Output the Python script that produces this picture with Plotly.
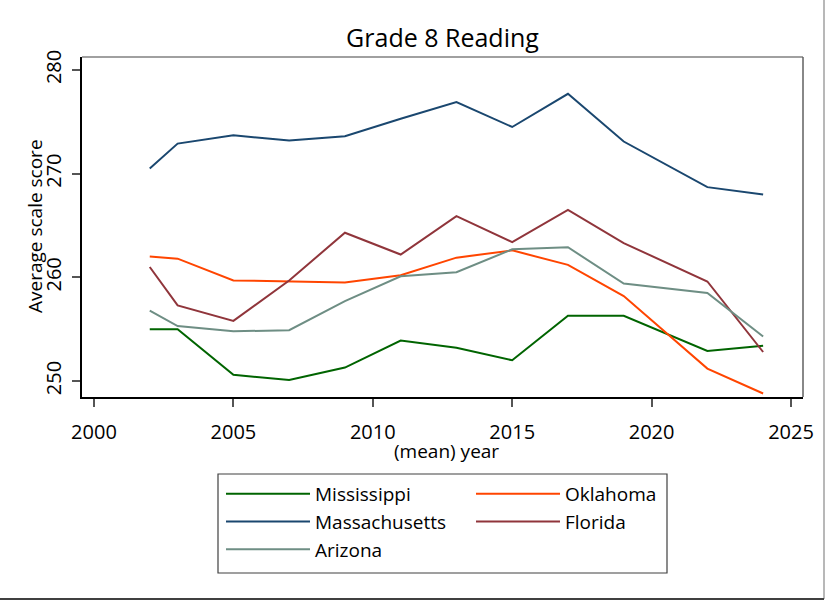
import plotly.graph_objects as go

years = [2002, 2003, 2005, 2007, 2009, 2011, 2013, 2015, 2017, 2019, 2022, 2024]
mississippi = [255.0, 255.0, 250.6, 250.1, 251.3, 253.9, 253.2, 252.0, 256.3, 256.3, 252.9, 253.4]
oklahoma = [262.0, 261.8, 259.7, 259.6, 259.5, 260.2, 261.9, 262.6, 261.2, 258.2, 251.2, 248.8]
massachusetts = [270.5, 272.9, 273.7, 273.2, 273.6, 275.3, 276.9, 274.5, 277.7, 273.1, 268.7, 268.0]
florida = [261.0, 257.3, 255.8, 259.7, 264.3, 262.2, 265.9, 263.4, 266.5, 263.3, 259.6, 252.8]
arizona = [256.8, 255.3, 254.8, 254.9, 257.7, 260.1, 260.5, 262.7, 262.9, 259.4, 258.5, 254.3]

x_ticks = [2000, 2005, 2010, 2015, 2020, 2025]
y_ticks = [250, 260, 270, 280]

series = [
    ("Mississippi", mississippi, "#006400"),
    ("Oklahoma", oklahoma, "#ff4500"),
    ("Massachusetts", massachusetts, "#1a476f"),
    ("Florida", florida, "#90353b"),
    ("Arizona", arizona, "#6e8e84"),
]

FONT = "Open Sans"

fig = go.Figure()
for name, vals, color in series:
    fig.add_trace(go.Scatter(x=years, y=vals, mode="lines", name=name,
                             line=dict(color=color, width=2)))

fig.update_layout(
    width=825, height=601,
    margin=dict(l=82, r=22, t=57, b=204, autoexpand=False),
    paper_bgcolor="white", plot_bgcolor="white",
    font=dict(family=FONT, color="black"),
    title=dict(text="Grade 8 Reading", x=0.5, xref="paper", xanchor="center",
               y=1 - 38 / 601, yref="container", yanchor="middle",
               font=dict(size=25, family=FONT, color="black")),
    showlegend=True,
    legend=dict(orientation="h", x=(221 - 82) / 721, xanchor="left",
                y=(397 - 475) / 340, yanchor="top",
                font=dict(size=19, family=FONT, color="black"),
                itemwidth=84, entrywidth=151, entrywidthmode="pixels",
                bgcolor="rgba(0,0,0,0)", borderwidth=0,
                traceorder="normal"),
    xaxis=dict(range=[1999.57, 2025.43], tickvals=x_ticks, showgrid=False,
               zeroline=False, showline=True, linecolor="black", linewidth=1.5,
               ticks="outside", ticklen=8, tickcolor="#555555", tickwidth=1.5,
               ticklabelstandoff=8,
               tickfont=dict(size=20, family=FONT, color="black")),
    yaxis=dict(range=[248.46, 281.25], tickvals=y_ticks, showgrid=False,
               zeroline=False, showline=True, linecolor="black", linewidth=1.5,
               ticks="outside", ticklen=8, tickcolor="#555555", tickwidth=1.5,
               tickangle=-90, ticklabelstandoff=3,
               tickfont=dict(size=20, family=FONT, color="black")),
    annotations=[
        dict(text="(mean) year", xref="paper", yref="paper",
             x=(446 - 82) / 721, y=(397 - 451) / 340, xanchor="center", yanchor="middle",
             showarrow=False, font=dict(size=19, family=FONT, color="black")),
        dict(text="Average scale score", xref="paper", yref="paper",
             x=(35 - 82) / 721, y=(397 - 226) / 340, xanchor="center", yanchor="middle",
             textangle=-90, showarrow=False,
             font=dict(size=19, family=FONT, color="black")),
    ],
    shapes=[
        dict(type="line", xref="paper", yref="paper", x0=0, x1=1, y0=1, y1=1,
             line=dict(color="#808080", width=1.5)),
        dict(type="line", xref="paper", yref="paper", x0=1, x1=1, y0=0, y1=1,
             line=dict(color="#606060", width=1.5)),
        dict(type="rect", xref="paper", yref="paper",
             x0=(218 - 82) / 721, x1=(667 - 82) / 721,
             y0=(397 - 474) / 340, y1=(397 - 573) / 340,
             line=dict(color="#404040", width=1.2), fillcolor="rgba(0,0,0,0)"),
        dict(type="line", xref="paper", yref="paper",
             x0=(824 - 82) / 721, x1=(824 - 82) / 721, y0=(397 - 0) / 340, y1=(397 - 599) / 340,
             line=dict(color="#a0a0a0", width=1.5)),
        dict(type="line", xref="paper", yref="paper",
             x0=-82 / 721, x1=(824 - 82) / 721, y0=(397 - 599) / 340, y1=(397 - 599) / 340,
             line=dict(color="#404040", width=2)),
    ],
)

fig.write_html("out.html", config={"displayModeBar": False},
               post_script="document.body.style.margin='0px';")
